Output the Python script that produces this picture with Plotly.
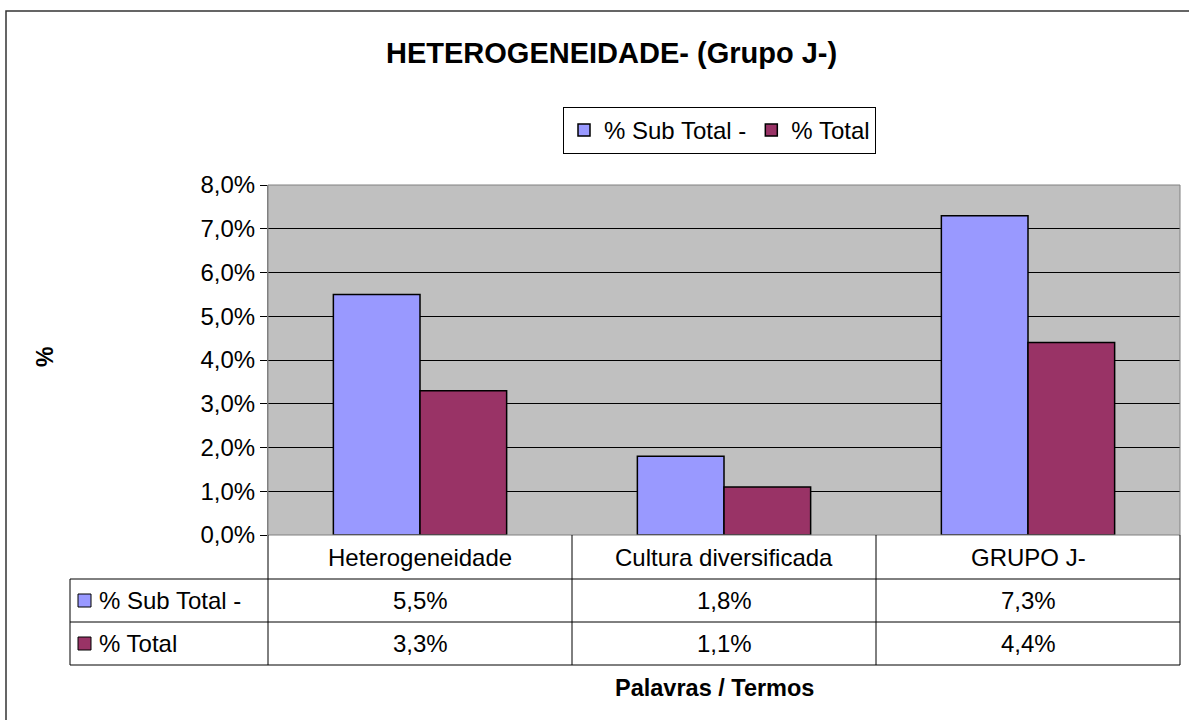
import plotly.graph_objects as go

categories = ["Heterogeneidade", "Cultura diversificada", "GRUPO J-"]
sub_total = [5.5, 1.8, 7.3]
total = [3.3, 1.1, 4.4]
series_names = ["% Sub Total -", "% Total"]
y_ticks = [0, 1, 2, 3, 4, 5, 6, 7, 8]

BLUE = "#9999FF"
MAROON = "#993366"
FONT = "Liberation Sans, Arial, sans-serif"

W_FIG, H_FIG = 1189, 720
L, R, T, B = 268, 1180, 185, 535
PW, PH = R - L, B - T


def X(px):
    return (px - L) / PW


def Y(py):
    return (B - py) / PH


def fmt(v):
    return f"{v:.1f}%".replace(".", ",")


fig = go.Figure()
fig.add_trace(go.Bar(x=categories, y=sub_total, name=series_names[0],
                     marker=dict(color=BLUE, line=dict(color="black", width=1.5))))
fig.add_trace(go.Bar(x=categories, y=total, name=series_names[1],
                     marker=dict(color=MAROON, line=dict(color="black", width=1.5))))

shapes = []
shapes.append(dict(type="rect", xref="paper", yref="paper",
                   x0=X(6), x1=X(1200), y0=Y(11), y1=Y(730),
                   line=dict(color="#333333", width=1.5), layer="below"))
shapes.append(dict(type="rect", xref="paper", yref="paper",
                   x0=0, x1=1, y0=0, y1=1,
                   line=dict(color="#808080", width=1), layer="above"))

row_lines = [579, 622, 665]
table_left = 70
for py in row_lines:
    shapes.append(dict(type="line", xref="paper", yref="paper",
                       x0=X(table_left), x1=X(R), y0=Y(py), y1=Y(py),
                       line=dict(color="black", width=1)))
shapes.append(dict(type="line", xref="paper", yref="paper",
                   x0=X(table_left), x1=X(table_left), y0=Y(row_lines[0]), y1=Y(row_lines[-1]),
                   line=dict(color="black", width=1)))
n = len(categories)
for k in range(n + 1):
    xv = k / n
    shapes.append(dict(type="line", xref="paper", yref="paper",
                       x0=xv, x1=xv, y0=Y(B), y1=Y(row_lines[-1]),
                       line=dict(color="black", width=1)))

key_colors = [BLUE, MAROON]
rows_mid = [(row_lines[0] + row_lines[1]) / 2, (row_lines[1] + row_lines[2]) / 2]
for c, ym in zip(key_colors, rows_mid):
    shapes.append(dict(type="rect", xref="paper", yref="paper",
                       x0=X(78), x1=X(91), y0=Y(ym + 6.5), y1=Y(ym - 6.5),
                       fillcolor=c, line=dict(color="black", width=1)))


def ann(text, x, y, size, xref="paper", xanchor="center", angle=0):
    return dict(text=text, xref=xref, yref="paper", x=x, y=y, showarrow=False,
                xanchor=xanchor, yanchor="middle", textangle=angle,
                font=dict(size=size, family=FONT, color="black"))


annotations = []
annotations.append(ann("<b>HETEROGENEIDADE- (Grupo J-)</b>", X(611), Y(53), 29))
annotations.append(ann("<b>%</b>", X(45), Y(357), 23, angle=-90))
annotations.append(ann("<b>Palavras / Termos</b>", X(714), Y(688), 23.5))
for cat in categories:
    annotations.append(ann(cat, cat, Y((B + row_lines[0]) / 2), 24, xref="x"))
for name, ym in zip(series_names, rows_mid):
    annotations.append(ann(name, X(97), Y(ym), 24, xanchor="left"))
for vals, ym in zip([sub_total, total], rows_mid):
    for cat, v in zip(categories, vals):
        annotations.append(ann(fmt(v), cat, Y(ym), 24, xref="x"))

fig.update_layout(
    width=W_FIG, height=H_FIG,
    margin=dict(l=L, r=W_FIG - R, t=T, b=H_FIG - B),
    paper_bgcolor="white", plot_bgcolor="#C0C0C0",
    barmode="group", bargap=0.43, bargroupgap=0,
    font=dict(family=FONT, size=24, color="black"),
    showlegend=True,
    legend=dict(orientation="h", x=X(563), xanchor="left", y=Y(107), yanchor="top",
                bgcolor="white", bordercolor="black", borderwidth=1,
                font=dict(size=24, family=FONT), itemwidth=30, traceorder="normal"),
    shapes=shapes, annotations=annotations,
)
fig.update_xaxes(showticklabels=False, showgrid=False, zeroline=False, ticks="",
                 showline=False, fixedrange=True)
fig.update_yaxes(range=[0, 8], tickvals=y_ticks, ticktext=[fmt(v) for v in y_ticks],
                 showgrid=True, gridcolor="black", gridwidth=1, zeroline=False,
                 showline=True, linecolor="#808080", linewidth=1,
                 ticks="outside", ticklen=7, tickcolor="black",
                 tickfont=dict(size=24, family=FONT, color="black"), fixedrange=True)

fig.write_html("out.html", config={"displayModeBar": False},
               post_script="document.body.style.margin='0';document.body.style.overflow='hidden';")
